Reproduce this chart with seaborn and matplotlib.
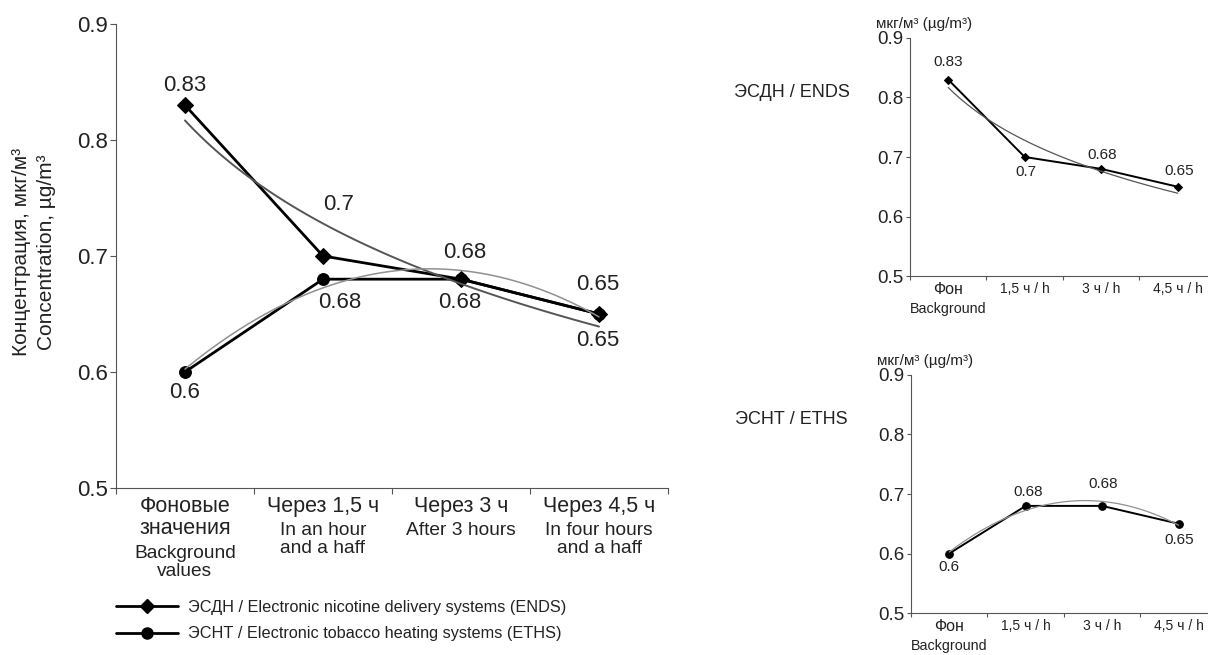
import numpy as np
import pandas as pd
import matplotlib
matplotlib.use("Agg")
import matplotlib.pyplot as plt
from matplotlib.lines import Line2D
import seaborn as sns

sns.set_style("ticks")
plt.rcParams["font.family"] = ["Liberation Sans", "DejaVu Sans"]
plt.rcParams["text.color"] = "#222222"
plt.rcParams["axes.edgecolor"] = "#555555"
plt.rcParams["xtick.color"] = "#555555"
plt.rcParams["ytick.color"] = "#555555"
plt.rcParams["xtick.labelcolor"] = "#222222"
plt.rcParams["ytick.labelcolor"] = "#222222"

# data
time_ru = ["Фоновые\nзначения", "Через 1,5 ч", "Через 3 ч", "Через 4,5 ч"]
time_en = ["Background\nvalues", "In an hour\nand a haff", "After 3 hours", "In four hours\nand a haff"]
time_short = ["Фон", "1,5 ч / h", "3 ч / h", "4,5 ч / h"]
ends = [0.83, 0.70, 0.68, 0.65]
eths = [0.60, 0.68, 0.68, 0.65]
pos = [1, 2, 3, 4]

df = pd.DataFrame({"pos": pos, "ends": ends, "eths": eths})

fig = plt.figure(figsize=(12.08, 6.55), dpi=100)

# ---------- main chart ----------
ax = fig.add_axes([0.0960, 0.2550, 0.4570, 0.7084])

sns.lineplot(data=df, x="pos", y="ends", ax=ax, color="black", lw=2.0,
             marker="D", markersize=8.5, markeredgecolor="black", zorder=3)
sns.lineplot(data=df, x="pos", y="eths", ax=ax, color="black", lw=2.0,
             marker="o", markersize=8.5, markeredgecolor="black", zorder=3)
sns.regplot(data=df, x="pos", y="ends", ax=ax, logx=True, ci=None, scatter=False,
            line_kws={"color": "#555555", "lw": 1.4, "zorder": 4})
sns.regplot(data=df, x="pos", y="eths", ax=ax, order=2, ci=None, scatter=False,
            line_kws={"color": "#909090", "lw": 1.1, "zorder": 4})

ax.set_xlim(0.5, 4.5)
ax.set_ylim(0.5, 0.9)
ax.set_yticks([0.5, 0.6, 0.7, 0.8, 0.9])
ax.set_yticklabels(["0.5", "0.6", "0.7", "0.8", "0.9"])
ax.tick_params(axis="y", labelsize=16, length=4, pad=2)
ax.set_xticks([0.5, 1.5, 2.5, 3.5, 4.5])
ax.set_xticklabels([])
ax.set_xticks(pos, time_ru, minor=True)
ax.tick_params(axis="x", which="major", length=4, direction="out")
ax.tick_params(axis="x", which="minor", length=0, pad=6, labelsize=15.5)
for t in ax.get_xticklabels(minor=True):
    t.set_linespacing(1.05)
for i, (ru, en) in enumerate(zip(time_ru, time_en)):
    n = ru.count("\n") + 1
    ax.annotate(en, xy=(pos[i], 0), xycoords=("data", "axes fraction"),
                xytext=(0, -(8 + 16.5 * n)), textcoords="offset points",
                ha="center", va="top", fontsize=13.8, linespacing=1.08)
ax.set_xlabel("")
ax.set_ylabel("")
sns.despine(ax=ax)

ends_off = [(0, 14), (11, 37), (3, 19), (-1, 21)]
eths_off = [(0, -15), (12, -17), (-1, -17), (-1, -19)]
for i in range(4):
    ax.annotate(f"{ends[i]:g}", (pos[i], ends[i]), xytext=ends_off[i],
                textcoords="offset points", ha="center", va="center", fontsize=16)
    ax.annotate(f"{eths[i]:g}", (pos[i], eths[i]), xytext=eths_off[i],
                textcoords="offset points", ha="center", va="center", fontsize=16)

fig.text(0.0176, 0.615, "Концентрация, мкг/м³", rotation=90, ha="center", va="center", fontsize=15)
fig.text(0.0385, 0.615, "Concentration, µg/m³", rotation=90, ha="center", va="center", fontsize=15)

handles = [
    Line2D([], [], color="black", lw=2.0, marker="D", markersize=7.5),
    Line2D([], [], color="black", lw=2.0, marker="o", markersize=8),
]
ax.legend(handles, ["ЭСДН / Electronic nicotine delivery systems (ENDS)",
                    "ЭСНТ / Electronic tobacco heating systems (ETHS)"],
          loc="upper left", bbox_to_anchor=(116 / 1208, 1 - 600 / 655),
          bbox_transform=fig.transFigure, frameon=False, fontsize=11.7,
          handlelength=3.8, handletextpad=0.6, labelspacing=0.7,
          borderpad=0, borderaxespad=0)

# ---------- small charts ----------
small = [
    ([0.7533, 0.5786, 0.2533, 0.3634], "ends", "D", 4.5, "ЭСДН / ENDS", 0.773,
     [(0, 13), (1, -11), (1, 10), (1, 11)], ends, "#555555"),
    ([0.7541, 0.0641, 0.2533, 0.3634], "eths", "o", 5.5, "ЭСНТ / ETHS", 0.811,
     [(0, -10), (2, 10), (1, 16), (0, -12)], eths, "#909090"),
]
for rect, col, mk, ms, name, name_y, offs, vals, tcol in small:
    a = fig.add_axes(rect)
    sns.lineplot(data=df, x="pos", y=col, ax=a, color="black", lw=1.4,
                 marker=mk, markersize=ms, markeredgecolor="black", zorder=3)
    if col == "ends":
        sns.regplot(data=df, x="pos", y=col, ax=a, logx=True, ci=None, scatter=False,
                    line_kws={"color": tcol, "lw": 0.9, "zorder": 4})
    else:
        sns.regplot(data=df, x="pos", y=col, ax=a, order=2, ci=None, scatter=False,
                    line_kws={"color": tcol, "lw": 0.9, "zorder": 4})
    a.set_xlim(0.5, 4.5)
    a.set_ylim(0.5, 0.9)
    a.set_yticks([0.5, 0.6, 0.7, 0.8, 0.9])
    a.set_yticklabels(["0.5", "0.6", "0.7", "0.8", "0.9"])
    a.tick_params(axis="y", labelsize=13.5, length=3, pad=2)
    a.set_xticks([0.5, 1.5, 2.5, 3.5, 4.5])
    a.set_xticklabels([])
    a.set_xticks(pos, time_short, minor=True)
    a.tick_params(axis="x", which="major", length=3)
    a.tick_params(axis="x", which="minor", length=0, pad=4, labelsize=10)
    a.get_xticklabels(minor=True)[0].set_fontsize(11.5)
    a.annotate("Background", xy=(1, 0), xycoords=("data", "axes fraction"),
               xytext=(0, -19), textcoords="offset points",
               ha="center", va="top", fontsize=10.3)
    a.set_xlabel("")
    a.set_ylabel("")
    sns.despine(ax=a)
    for i in range(4):
        a.annotate(f"{vals[i]:g}", (pos[i], vals[i]), xytext=offs[i],
                   textcoords="offset points", ha="center", va="center", fontsize=11)
    a.text(-0.111, 1.06, "мкг/м³ (µg/m³)", transform=a.transAxes,
           ha="left", va="center", fontsize=11)
    a.text(-0.575, name_y, name, transform=a.transAxes,
           ha="left", va="center", fontsize=13)

fig.savefig("out.png", dpi=100)
